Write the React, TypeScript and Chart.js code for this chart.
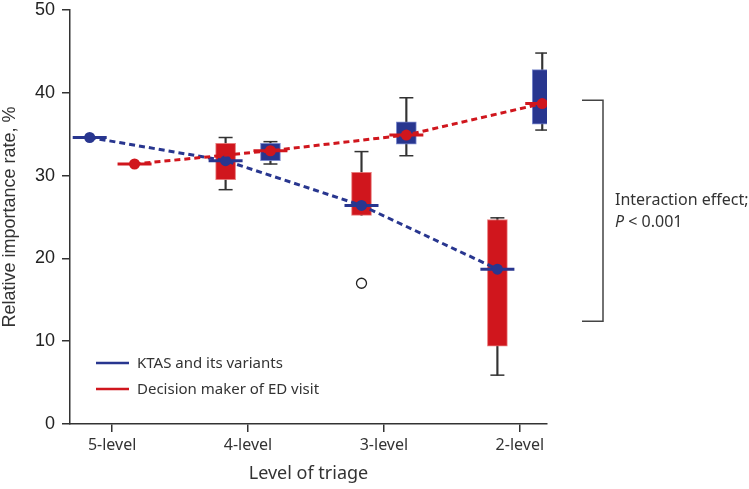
import React, { useEffect, useRef } from 'react';
import { Chart, registerables } from 'chart.js';

Chart.register(...registerables);

// ---- data ----
const categories = ['5-level', '4-level', '3-level', '2-level'];
const yTicks = [0, 10, 20, 30, 40, 50];
const seriesNames = ['KTAS and its variants', 'Decision maker of ED visit'];

// connected points (means)
const ktasPoints = [34.6, 31.8, 26.4, 18.7];
const decisionPoints = [31.4, 33.0, 34.9, 38.7];

// red boxes (left slot)
const redBoxQ1 = [null, 29.5, 25.2, 9.4];
const redBoxQ3 = [null, 33.9, 30.4, 24.7];
const redWhiskerLow = [null, 28.3, null, 5.9];
const redWhiskerHigh = [null, 34.6, 32.9, 24.9];
const redOutliers = [null, null, 17.0, null];

// blue boxes (right slot)
const blueBoxQ1 = [null, 31.8, 33.8, 36.2];
const blueBoxQ3 = [null, 33.9, 36.5, 42.8];
const blueWhiskerLow = [null, 31.4, 32.4, 35.5];
const blueWhiskerHigh = [null, 34.1, 39.4, 44.8];

// annotation
const bracketRange = [12.4, 39.1];
const annotationLine1 = 'Interaction effect;';
const annotationP = 'P';
const annotationRest = ' < 0.001';

const BLUE = '#28368f';
const RED = '#d0161d';
const INK = '#333333';
const LEFT = -0.165;
const RIGHT = 0.165;

type N = number | null;

function boxData(q1: N[], q3: N[], off: number) {
  const out: any[] = [];
  q1.forEach((v, i) => {
    if (v !== null && q3[i] !== null) out.push({ x: i + off, y: [v, q3[i]] });
  });
  return out;
}
function whiskerData(lo: N[], hi: N[], q1: N[], q3: N[], off: number) {
  const out: any[] = [];
  q1.forEach((v, i) => {
    if (v === null) return;
    const a = lo[i] !== null ? lo[i] : v;
    const b = hi[i] !== null ? hi[i] : q3[i];
    out.push({ x: i + off, y: [a, b] });
  });
  return out;
}
function pointData(vals: N[], off: number) {
  const out: any[] = [];
  vals.forEach((v, i) => {
    if (v !== null) out.push({ x: i + off, y: v });
  });
  return out;
}

const overlayPlugin = {
  id: 'overlay',
  afterDraw(chart: any) {
    const { ctx, chartArea, scales } = chart;
    const ys = scales.y;
    ctx.save();
    // legend
    const lx = chartArea.left + 26;
    const items = [
      { color: BLUE, text: seriesNames[0], y: 363 },
      { color: RED, text: seriesNames[1], y: 389 },
    ];
    ctx.font = '15px "Noto Sans"';
    ctx.textBaseline = 'middle';
    ctx.textAlign = 'left';
    items.forEach((it) => {
      ctx.strokeStyle = it.color;
      ctx.lineWidth = 2.5;
      ctx.beginPath();
      ctx.moveTo(lx, it.y);
      ctx.lineTo(lx + 33, it.y);
      ctx.stroke();
      ctx.fillStyle = INK;
      ctx.fillText(it.text, lx + 41, it.y + 1);
    });
    // bracket
    const bx0 = chartArea.right + 35;
    const bx1 = chartArea.right + 56;
    const top = ys.getPixelForValue(bracketRange[1]);
    const bot = ys.getPixelForValue(bracketRange[0]);
    ctx.strokeStyle = '#444';
    ctx.lineWidth = 1.5;
    ctx.beginPath();
    ctx.moveTo(bx0, top);
    ctx.lineTo(bx1, top);
    ctx.lineTo(bx1, bot);
    ctx.lineTo(bx0, bot);
    ctx.stroke();
    // annotation text
    const tx = bx1 + 12;
    const mid = (top + bot) / 2;
    ctx.fillStyle = INK;
    ctx.font = '16px "Noto Sans"';
    ctx.fillText(annotationLine1, tx, mid - 10);
    ctx.font = 'italic 16px "Noto Sans"';
    ctx.fillText(annotationP, tx, mid + 12);
    const pw = ctx.measureText(annotationP).width;
    ctx.font = '16px "Noto Sans"';
    ctx.fillText(annotationRest, tx + pw, mid + 12);
    ctx.restore();
  },
};

export default function App() {
  const ref = useRef<HTMLCanvasElement | null>(null);
  useEffect(() => {
    if (!ref.current) return;
    const datasets: any[] = [
      // whiskers
      {
        type: 'bar',
        data: whiskerData(redWhiskerLow, redWhiskerHigh, redBoxQ1, redBoxQ3, LEFT),
        backgroundColor: '#333',
        barThickness: 1.5,
        grouped: false,
        order: 10,
      },
      {
        type: 'bar',
        data: whiskerData(blueWhiskerLow, blueWhiskerHigh, blueBoxQ1, blueBoxQ3, RIGHT),
        backgroundColor: '#333',
        barThickness: 1.5,
        grouped: false,
        order: 10,
      },
      // caps
      {
        type: 'scatter',
        data: [
          ...pointData(redWhiskerLow, LEFT),
          ...pointData(redWhiskerHigh, LEFT),
          ...pointData(blueWhiskerLow, RIGHT),
          ...pointData(blueWhiskerHigh, RIGHT),
        ],
        pointStyle: 'line',
        pointRadius: 7,
        pointBorderWidth: 1.5,
        pointBorderColor: '#333',
        borderColor: '#333',
        order: 9,
      },
      // boxes
      {
        type: 'bar',
        data: boxData(redBoxQ1, redBoxQ3, LEFT),
        backgroundColor: RED,
        borderColor: 'rgba(230,110,110,0.9)',
        borderWidth: 1,
        borderSkipped: false,
        barThickness: 20,
        grouped: false,
        order: 8,
      },
      {
        type: 'bar',
        data: boxData(blueBoxQ1, blueBoxQ3, RIGHT),
        backgroundColor: BLUE,
        borderColor: 'rgba(110,125,200,0.9)',
        borderWidth: 1,
        borderSkipped: false,
        barThickness: 20,
        grouped: false,
        order: 8,
      },
      // outliers
      {
        type: 'scatter',
        data: pointData(redOutliers, LEFT),
        pointStyle: 'circle',
        pointRadius: 5,
        pointBackgroundColor: '#fff',
        pointBorderColor: '#222',
        pointBorderWidth: 1.3,
        order: 7,
      },
      // median lines
      {
        type: 'scatter',
        data: pointData(ktasPoints, LEFT),
        pointStyle: 'line',
        pointRadius: 17,
        pointBorderWidth: 3,
        pointBorderColor: BLUE,
        borderColor: BLUE,
        order: 5,
      },
      {
        type: 'scatter',
        data: pointData(decisionPoints, RIGHT),
        pointStyle: 'line',
        pointRadius: 17,
        pointBorderWidth: 3,
        pointBorderColor: RED,
        borderColor: RED,
        order: 5,
      },
      // dashed connecting lines with dots
      {
        type: 'line',
        label: seriesNames[0],
        data: pointData(ktasPoints, LEFT),
        borderColor: BLUE,
        backgroundColor: BLUE,
        borderWidth: 3,
        borderDash: [6, 4],
        pointRadius: 5.5,
        pointBackgroundColor: BLUE,
        pointBorderWidth: 0,
        fill: false,
        tension: 0,
        order: 2,
      },
      {
        type: 'line',
        label: seriesNames[1],
        data: pointData(decisionPoints, RIGHT),
        borderColor: RED,
        backgroundColor: RED,
        borderWidth: 3,
        borderDash: [6, 4],
        pointRadius: 5.5,
        pointBackgroundColor: RED,
        pointBorderWidth: 0,
        fill: false,
        tension: 0,
        order: 1,
      },
    ];

    const chart = new Chart(ref.current, {
      type: 'bar',
      data: { datasets },
      options: {
        responsive: false,
        animation: false,
        devicePixelRatio: 1,
        layout: { autoPadding: false, padding: { left: 0, top: 10, right: 202, bottom: 0 } },
        plugins: { legend: { display: false }, tooltip: { enabled: false } },
        scales: {
          x: {
            type: 'linear',
            min: -0.31,
            max: 3.2,
            offset: false,
            afterBuildTicks: (s: any) => {
              s.ticks = categories.map((_, i) => ({ value: i }));
            },
            afterFit: (s: any) => {
              s.height = 65;
              s.paddingLeft = 0;
              s.paddingRight = 0;
            },
            ticks: {
              callback: (v: any) => categories[v] ?? '',
              font: { family: 'Noto Sans', size: 16 },
              color: INK,
              padding: 4,
              maxRotation: 0,
              autoSkip: false,
            },
            grid: { offset: false, drawOnChartArea: false, drawTicks: true, tickLength: 8, color: INK, lineWidth: 1.5 },
            border: { display: true, color: INK, width: 1.5 },
            title: {
              display: true,
              text: 'Level of triage',
              font: { family: 'Noto Sans', size: 18, lineHeight: 1.2 },
              color: INK,
              padding: { top: 0, bottom: 4 },
            },
          },
          y: {
            type: 'linear',
            min: 0,
            max: 50,
            afterBuildTicks: (s: any) => {
              s.ticks = yTicks.map((v) => ({ value: v }));
            },
            afterFit: (s: any) => {
              s.width = 70;
              s.paddingTop = 0;
              s.paddingBottom = 0;
            },
            ticks: {
              font: { family: 'Liberation Sans', size: 18, lineHeight: 1 },
              color: '#222',
              padding: 7,
            },
            grid: { drawOnChartArea: false, drawTicks: true, tickLength: 8, color: INK, lineWidth: 1.5 },
            border: { display: true, color: INK, width: 1.5 },
            title: {
              display: true,
              text: 'Relative importance rate, %',
              font: { family: 'Liberation Sans', size: 18, lineHeight: 1.1 },
              color: INK,
              padding: { top: 0, bottom: 0 },
            },
          },
        },
      } as any,
      plugins: [overlayPlugin],
    });
    return () => chart.destroy();
  }, []);

  return (
    <div style={{ position: 'fixed', left: 0, top: 0, width: 749, height: 489, background: '#fff' }}>
      <canvas ref={ref} width={749} height={489} />
    </div>
  );
}
